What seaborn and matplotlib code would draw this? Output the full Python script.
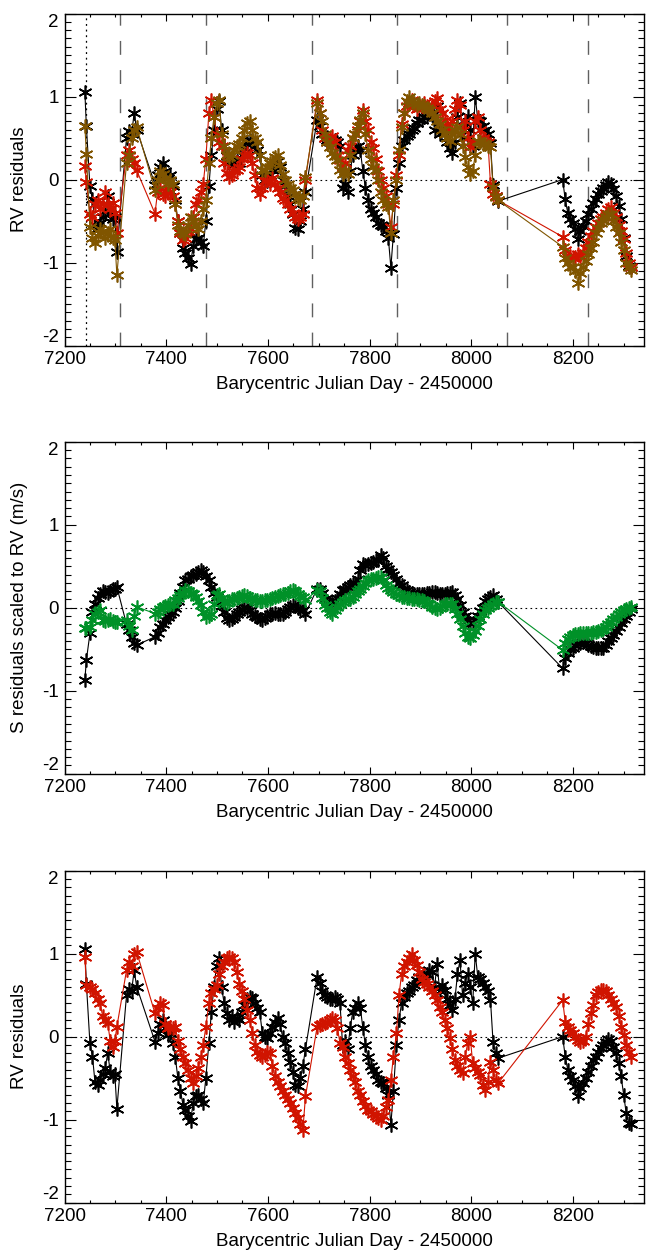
import matplotlib
matplotlib.use("Agg")
import matplotlib.pyplot as plt
import numpy as np
import pandas as pd
import seaborn as sns
from matplotlib.ticker import MultipleLocator, FixedLocator

sns.set_theme(style="white")
plt.rcParams['font.family'] = ['Liberation Sans', 'DejaVu Sans']
plt.rcParams['axes.unicode_minus'] = False

# ---------------- data ----------------
bjd = [7240, 7243,
       7250, 7255, 7260, 7265, 7270, 7275, 7280, 7285, 7290, 7295, 7299,
       7303,
       7322, 7327, 7332, 7337, 7342,
       7378, 7383, 7388, 7393, 7398, 7403, 7408, 7413, 7418, 7423, 7428, 7433, 7438,
       7443, 7448, 7453, 7458, 7463, 7468, 7473, 7478,
       7484, 7489, 7494, 7499, 7504, 7509, 7514, 7519, 7524, 7529, 7534, 7539, 7544,
       7549, 7554, 7559, 7564, 7569, 7574, 7579, 7584, 7589, 7594, 7599, 7604, 7609,
       7614, 7619, 7624, 7629, 7634, 7639, 7644, 7649, 7654, 7659, 7664, 7669, 7674,
       7697, 7702, 7707, 7712, 7717, 7722, 7727, 7732, 7737, 7742, 7747, 7752, 7757,
       7762, 7767, 7772, 7777, 7782, 7787, 7792, 7797, 7802, 7807, 7812, 7817, 7822,
       7827, 7832, 7837, 7842, 7847,
       7853, 7858, 7863, 7868, 7873, 7878, 7883, 7888, 7893, 7898, 7903, 7908, 7913,
       7918, 7923, 7928, 7933, 7938, 7943, 7948, 7953, 7958, 7963, 7968, 7973, 7978,
       7983, 7988, 7993, 7998, 8003, 8008, 8013, 8018, 8023, 8028, 8033, 8038, 8043,
       8048, 8053,
       8180, 8185, 8190, 8195, 8200, 8205, 8210, 8215, 8220, 8225, 8230, 8235, 8240,
       8245, 8250, 8255, 8260, 8265, 8270, 8275, 8280, 8285, 8290, 8295, 8300, 8305,
       8310, 8314]

# RV residuals (black, panels 1 and 3)
rv_black = [1.06, 0.64,
            -0.08, -0.24, -0.55, -0.58, -0.52, -0.45, -0.38, -0.20, -0.42, -0.48, -0.45,
            -0.87,
            0.50, 0.58, 0.55, 0.80, 0.60,
            -0.06, 0.05, 0.15, 0.20, 0.10, 0.02, 0.05, -0.08, -0.25, -0.50, -0.65, -0.82, -0.88,
            -0.95, -1.02, -0.80, -0.72, -0.70, -0.75, -0.80, -0.50,
            -0.08, 0.30, 0.60, 0.85, 0.95, 0.60, 0.40, 0.28, 0.20, 0.25, 0.18, 0.22, 0.20,
            0.30, 0.38, 0.45, 0.48, 0.46, 0.40, 0.35, 0.30, 0.05, 0.00, -0.02, 0.05, 0.12,
            0.18, 0.22, 0.15, 0.00, -0.08, -0.20, -0.30, -0.42, -0.58, -0.60, -0.50, -0.35, -0.15,
            0.72, 0.65, 0.55, 0.50, 0.48, 0.45, 0.45, 0.48, 0.45, 0.40, -0.10, -0.05, -0.15,
            0.10, 0.30, 0.35, 0.40, 0.35, 0.10, -0.10, -0.25, -0.35, -0.40, -0.45, -0.52, -0.55,
            -0.56, -0.62, -0.70, -1.06, -0.66,
            -0.10, 0.20, 0.40, 0.48, 0.52, 0.55, 0.60, 0.62, 0.68, 0.72, 0.72, 0.75, 0.76,
            0.80, 0.78, 0.60, 0.88, 0.55, 0.62, 0.56, 0.45, 0.38, 0.32, 0.45, 0.75, 0.92,
            0.50, 0.65, 0.76, 0.60, 0.40, 1.00, 0.72, 0.70, 0.65, 0.60, 0.55, 0.44, -0.06,
            -0.20, -0.26,
            0.00, -0.24, -0.40, -0.48, -0.52, -0.60, -0.72, -0.62, -0.56, -0.50, -0.42, -0.35, -0.28,
            -0.24, -0.18, -0.14, -0.10, -0.06, -0.03, -0.05, -0.12, -0.20, -0.32, -0.48, -0.70, -0.92,
            -1.04, -1.05]

# RV residuals, red model (panel 1)
rv_red = [0.16, -0.03,
          -0.41, -0.45, -0.30, -0.25, -0.35, -0.30, -0.15, -0.30, -0.35, -0.28, -0.40,
          -0.65,
          0.30, 0.35, 0.25, 0.20, 0.11,
          -0.41, -0.15, -0.10, -0.18, -0.20, -0.12, -0.15, -0.20, -0.30, -0.50, -0.65, -0.73, -0.70,
          -0.62, -0.60, -0.45, -0.30, -0.25, -0.15, -0.05, 0.25,
          0.80, 0.96, 0.75, 0.55, 0.45, 0.40, 0.20, 0.08, 0.03, 0.05, 0.10, 0.12, 0.15,
          0.25, 0.30, 0.32, 0.30, 0.20, 0.05, -0.10, -0.17, -0.10, -0.02, 0.00, -0.05, 0.02,
          -0.05, -0.10, -0.15, -0.22, -0.25, -0.30, -0.35, -0.40, -0.45, -0.48, -0.45, -0.42, 0.00,
          0.96, 0.80, 0.60, 0.50, 0.45, 0.50, 0.52, 0.45, 0.30, 0.23, 0.15, 0.20, 0.35,
          0.40, 0.50, 0.55, 0.60, 0.70, 0.84, 0.70, 0.60, 0.45, 0.38, 0.25, 0.10, 0.00,
          -0.10, -0.20, -0.30, -0.57, -0.30,
          0.05, 0.30, 0.67, 0.80, 0.88, 0.92, 0.96, 0.90, 0.85, 0.90, 0.88, 0.92, 0.88,
          0.85, 0.90, 0.95, 0.98, 0.85, 0.80, 0.72, 0.65, 0.60, 0.70, 0.85, 0.96, 0.90,
          0.60, 0.71, 0.50, 0.39, 0.45, 0.71, 0.75, 0.60, 0.50, 0.47, 0.45, -0.05, -0.17,
          -0.20, -0.25,
          -0.69, -0.85, -0.93, -0.92, -0.95, -0.93, -0.90, -0.92, -0.89, -0.82, -0.75, -0.68, -0.62,
          -0.57, -0.52, -0.48, -0.45, -0.40, -0.35, -0.33, -0.40, -0.45, -0.55, -0.62, -0.72, -0.88,
          -1.00, -1.05]

# RV residuals, brown model (panel 1)
rv_brown = [0.65, 0.31,
            -0.57, -0.70, -0.77, -0.68, -0.60, -0.62, -0.70, -0.65, -0.60, -0.70, -0.73,
            -1.15,
            0.20, 0.30, 0.50, 0.60, 0.63,
            -0.13, 0.00, 0.10, 0.07, 0.02, -0.05, 0.00, -0.05, -0.30, -0.55, -0.62, -0.65, -0.66,
            -0.55, -0.45, -0.50, -0.55, -0.60, -0.50, -0.35, -0.25,
            0.20, 0.50, 0.75, 0.92, 0.96, 0.55, 0.40, 0.30, 0.27, 0.30, 0.35, 0.40, 0.43,
            0.50, 0.60, 0.68, 0.71, 0.60, 0.50, 0.45, 0.30, 0.11, 0.12, 0.15, 0.20, 0.22,
            0.27, 0.30, 0.18, 0.07, 0.00, -0.05, -0.10, -0.13, -0.18, -0.22, -0.25, -0.20, 0.03,
            0.92, 0.80, 0.71, 0.55, 0.45, 0.39, 0.32, 0.28, 0.23, 0.11, 0.07, 0.10, 0.07,
            0.30, 0.50, 0.55, 0.65, 0.72, 0.80, 0.55, 0.35, 0.25, 0.15, 0.11, 0.00, -0.15,
            -0.25, -0.30, -0.33, -0.65, -0.25,
            0.00, 0.35, 0.63, 0.80, 0.95, 1.00, 0.95, 0.92, 0.90, 0.92, 0.90, 0.88, 0.86,
            0.84, 0.80, 0.75, 0.70, 0.67, 0.60, 0.55, 0.50, 0.47, 0.55, 0.60, 0.63, 0.55,
            0.40, 0.27, 0.15, 0.07, 0.10, 0.30, 0.47, 0.45, 0.43, 0.43, 0.40, 0.39, -0.09,
            -0.21, -0.25,
            -0.81, -0.95, -1.01, -1.05, -1.05, -1.10, -1.25, -1.12, -1.05, -0.98, -0.90, -0.82, -0.75,
            -0.65, -0.58, -0.52, -0.49, -0.45, -0.42, -0.41, -0.50, -0.57, -0.65, -0.75, -0.85, -1.00,
            -1.05, -1.09]

# S residuals scaled to RV (panel 2)
s_black = [-0.87, -0.63,
           -0.31, -0.05, 0.05, 0.12, 0.17, 0.20, 0.19, 0.18, 0.20, 0.22, 0.23,
           0.25,
           -0.20, -0.27, -0.35, -0.42, -0.45,
           -0.35, -0.30, -0.23, -0.20, -0.15, -0.11, -0.08, -0.05, 0.00, 0.08, 0.18, 0.25, 0.33,
           0.35, 0.38, 0.40, 0.41, 0.43, 0.45, 0.43, 0.38,
           0.33, 0.25, 0.18, 0.13, 0.08, 0.02, -0.05, -0.12, -0.15, -0.13, -0.11, -0.08, -0.05,
           -0.02, 0.01, 0.00, -0.03, -0.07, -0.10, -0.11, -0.13, -0.15, -0.12, -0.10, -0.08, -0.07,
           -0.06, -0.07, -0.07, -0.07, -0.05, -0.02, 0.01, 0.03, 0.02, 0.00, -0.02, -0.03, -0.07,
           0.23, 0.23, 0.18, 0.10, 0.08, 0.06, 0.05, 0.08, 0.12, 0.17, 0.21, 0.23, 0.25,
           0.27, 0.29, 0.30, 0.35, 0.45, 0.53, 0.52, 0.53, 0.54, 0.55, 0.57, 0.58, 0.63,
           0.60, 0.50, 0.47, 0.43, 0.40,
           0.35, 0.30, 0.27, 0.23, 0.21, 0.19, 0.18, 0.17, 0.17, 0.16, 0.17, 0.17, 0.18,
           0.18, 0.19, 0.19, 0.18, 0.17, 0.16, 0.17, 0.18, 0.18, 0.19, 0.15, 0.10, 0.03,
           -0.05, -0.10, -0.15, -0.19, -0.18, -0.15, -0.10, -0.04, 0.00, 0.08, 0.10, 0.13, 0.15,
           0.10, 0.07,
           -0.73, -0.60, -0.55, -0.50, -0.49, -0.45, -0.43, -0.42, -0.41, -0.43, -0.45, -0.46, -0.47,
           -0.48, -0.49, -0.49, -0.48, -0.45, -0.40, -0.37, -0.33, -0.28, -0.23, -0.18, -0.14, -0.10,
           -0.05, -0.01]

s_green = [-0.25, -0.24,
           -0.23, -0.15, -0.08, -0.05, -0.03, -0.15, -0.16, -0.15, -0.14, -0.16, -0.17,
           -0.17,
           -0.15, -0.22, -0.27, -0.10, 0.01,
           -0.07, -0.05, -0.02, 0.01, 0.02, 0.03, 0.04, 0.05, 0.09, 0.12, 0.15, 0.18, 0.21,
           0.20, 0.18, 0.17, 0.13, 0.08, 0.03, -0.05, -0.11,
           -0.10, -0.07, 0.05, 0.15, 0.17, 0.12, 0.07, 0.06, 0.08, 0.10, 0.11, 0.12, 0.13,
           0.14, 0.15, 0.14, 0.12, 0.10, 0.09, 0.09, 0.08, 0.08, 0.09, 0.09, 0.10, 0.12,
           0.13, 0.14, 0.15, 0.16, 0.17, 0.18, 0.20, 0.21, 0.20, 0.17, 0.14, 0.13, 0.09,
           0.21, 0.20, 0.12, 0.03, 0.00, -0.05, -0.07, -0.03, 0.01, 0.05, 0.07, 0.09, 0.10,
           0.11, 0.13, 0.16, 0.20, 0.22, 0.26, 0.30, 0.33, 0.34, 0.35, 0.36, 0.37, 0.37,
           0.33, 0.27, 0.24, 0.21, 0.19,
           0.17, 0.15, 0.13, 0.13, 0.12, 0.12, 0.11, 0.11, 0.10, 0.09, 0.09, 0.08, 0.06,
           0.04, 0.01, 0.00, -0.01, 0.00, 0.02, 0.04, 0.05, 0.05, 0.04, -0.02, -0.08, -0.13,
           -0.22, -0.30, -0.35, -0.37, -0.33, -0.28, -0.22, -0.13, -0.07, -0.03, 0.00, 0.02, 0.05,
           0.07, 0.07,
           -0.51, -0.42, -0.38, -0.35, -0.33, -0.32, -0.32, -0.31, -0.31, -0.30, -0.30, -0.30, -0.29,
           -0.29, -0.28, -0.27, -0.26, -0.23, -0.20, -0.17, -0.14, -0.11, -0.08, -0.05, -0.03, -0.01,
           0.00, 0.01]

# RV residuals, red model (panel 3)
rv_red3 = [0.96, 0.62,
           0.60, 0.58, 0.52, 0.45, 0.40, 0.25, 0.20, 0.16, -0.05, -0.12, -0.05,
           0.12,
           0.80, 0.90, 0.85, 1.00, 1.02,
           0.28, 0.35, 0.40, 0.38, 0.15, 0.10, 0.12, 0.10, 0.12, -0.05, -0.15, -0.24, -0.32,
           -0.40, -0.50, -0.56, -0.48, -0.38, -0.25, -0.10, 0.12,
           0.40, 0.52, 0.58, 0.62, 0.75, 0.85, 0.90, 0.95, 0.96, 0.95, 0.90, 0.78, 0.64,
           0.55, 0.45, 0.32, 0.20, 0.05, -0.10, -0.18, -0.22, -0.25, -0.22, -0.18, -0.20, -0.35,
           -0.48, -0.55, -0.60, -0.66, -0.70, -0.75, -0.80, -0.86, -0.92, -0.98, -1.05, -1.12, -0.72,
           0.12, 0.14, 0.15, 0.16, 0.18, 0.20, 0.22, 0.20, 0.10, -0.08, -0.12, -0.25, -0.32,
           -0.40, -0.48, -0.55, -0.65, -0.70, -0.78, -0.84, -0.88, -0.90, -0.93, -0.96, -0.98, -1.00,
           -0.95, -0.85, -0.76, -0.52, -0.24,
           0.04, 0.50, 0.75, 0.85, 0.90, 0.95, 1.00, 0.92, 0.86, 0.78, 0.70, 0.66, 0.63,
           0.60, 0.55, 0.50, 0.44, 0.36, 0.30, 0.20, 0.10, -0.02, -0.15, -0.28, -0.35, -0.40,
           -0.44, -0.25, -0.08, 0.00, -0.32, -0.38, -0.42, -0.46, -0.58, -0.64, -0.55, -0.30, -0.40,
           -0.52, -0.56,
           0.44, 0.18, 0.12, 0.08, 0.04, 0.00, -0.04, -0.06, -0.05, 0.00, 0.15, 0.28, 0.38,
           0.50, 0.54, 0.56, 0.56, 0.55, 0.50, 0.45, 0.40, 0.36, 0.25, 0.12, 0.02, -0.10,
           -0.18, -0.24]

# reference epochs marked in the top panel
epoch_dotted = [7241.7]
epochs_dashed = [7309, 7477.6, 7686, 7854.5, 8070.8, 8230]

ylabels = ["RV residuals", "S residuals scaled to RV (m/s)", "RV residuals"]
xlabel = "Barycentric Julian Day - 2450000"
yticks = [-2, -1, 0, 1, 2]

df = pd.DataFrame({"bjd": bjd, "rv_black": rv_black, "rv_red": rv_red,
                   "rv_brown": rv_brown, "s_black": s_black, "s_green": s_green,
                   "rv_red3": rv_red3})

BLACK = "#000000"
RED = "#d01400"
BROWN = "#805500"
GREEN = "#009128"
STAR = (6, 2, 0)

fig = plt.figure(figsize=(6.55, 12.52), dpi=100)
L, W, H = 0.0985, 0.8847, 0.2652
bottoms = [0.7240, 0.3820, 0.0394]
axes = [fig.add_axes([L, b, W, H]) for b in bottoms]


def draw(ax, col, color):
    sns.lineplot(data=df, x="bjd", y=col, ax=ax, color=color, linewidth=0.8,
                 marker=STAR, markersize=10, markeredgewidth=1.2,
                 markeredgecolor=color, estimator=None, sort=False,
                 legend=False, zorder=3)


draw(axes[0], "rv_black", BLACK)
draw(axes[0], "rv_red", RED)
draw(axes[0], "rv_brown", BROWN)
draw(axes[1], "s_black", BLACK)
draw(axes[1], "s_green", GREEN)
draw(axes[2], "rv_black", BLACK)
draw(axes[2], "rv_red3", RED)

for e in epoch_dotted:
    axes[0].axvline(e, color="black", lw=0.9, ls=(0, (1.5, 3)), zorder=1)
for e in epochs_dashed:
    axes[0].axvline(e, color="#606060", lw=1.0, ls=(0, (10, 11)), zorder=1)

for ax, yl in zip(axes, ylabels):
    ax.set_xlim(7200, 8340)
    ax.set_ylim(-2, 2)
    ax.axhline(0, color="black", lw=0.8, ls=(0, (1.5, 3)), zorder=1)
    ax.xaxis.set_major_locator(MultipleLocator(200))
    ax.xaxis.set_minor_locator(MultipleLocator(50))
    ax.yaxis.set_major_locator(FixedLocator(yticks))
    ax.yaxis.set_minor_locator(MultipleLocator(0.1))
    ax.tick_params(which="both", direction="in", top=True, right=True,
                   bottom=True, left=True, labelsize=13.5, pad=4,
                   color="black", width=0.8, labelcolor="black")
    ax.tick_params(axis="x", which="major", length=5)
    ax.tick_params(axis="x", which="minor", length=2.5)
    ax.tick_params(axis="y", which="major", length=8)
    ax.tick_params(axis="y", which="minor", length=4.3)
    for s in ax.spines.values():
        s.set_color("black")
        s.set_linewidth(1.0)
    ax.grid(False)
    ax.set_xlabel(xlabel, fontsize=13.5, labelpad=5.5, color="black")
    ax.set_ylabel(yl, fontsize=13.5, labelpad=10, color="black")
    ticks = ax.yaxis.get_major_ticks(len(yticks))
    ticks[0].label1.set_va("bottom")
    ticks[-1].label1.set_va("top")

fig.savefig("out.png", dpi=100)
